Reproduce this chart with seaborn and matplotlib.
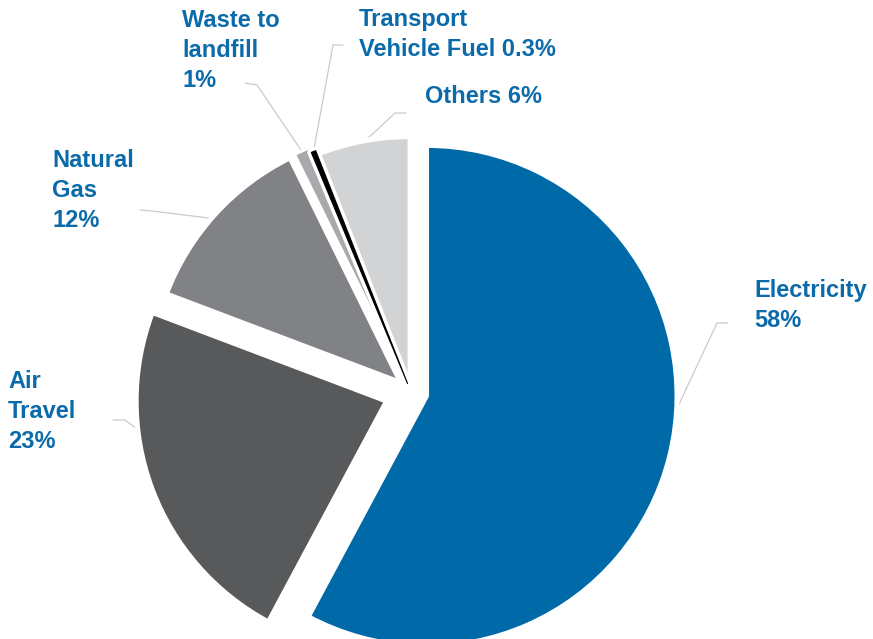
import numpy as np
import matplotlib
matplotlib.use("Agg")
import matplotlib.pyplot as plt
import matplotlib.patheffects as pe
import seaborn as sns

# Emission sources and their share of the footprint (%)
categories = ["Electricity", "Air Travel", "Natural Gas", "Waste to landfill",
              "Transport Vehicle Fuel", "Others"]
shares = [58, 23, 12, 1, 0.3, 6]
# How each category name is broken over lines, and what joins it to its value
label_names = ["Electricity", "Air\nTravel", "Natural\nGas", "Waste to\nlandfill",
               "Transport\nVehicle Fuel", "Others"]
label_joins = ["\n", "\n", "\n", "\n", " ", " "]

slice_colors = sns.color_palette(["#006AA8", "#58595B", "#808285", "#A7A9AC",
                                  "#000000", "#D1D3D4"])
text_blue = "#0B6BAA"
leader_grey = "#C9C9C9"

# Canvas and pie layout, in pixels measured from the top-left corner
W, H = 873, 639
R = 250.5
CX, CY = 411, 392
explode_px = [16, 26, 14, 14, 9, 5]
gap_px = [5, 5, 5, 3, 0, 5]   # white outline width per slice
PT = 72 / 100  # points per pixel at 100 dpi

# Label placement: left edge and baseline of the last line of each label
label_xy = [(754, 327), (8, 448), (52, 227), (182, 87), (359, 56), (425, 103)]
# Leader lines: free end, elbow, and where along each slice's arc they touch
leader_end = [(728, 323), (113, 420), (140, 210), (245, 83), (343, 45), (406, 113)]
leader_elbow = [(717, 323), (125, 420), (152, 211), (257, 85), (333, 45), (395, 113)]
leader_frac = [0.553, 0.33, 0.53, 0.5, 0.5, 0.475]


def to_data(x, y):
    """Pixel position (from top-left) -> pie data coordinates (radius = 1)."""
    return (x - CX) / R, (CY - y) / R


sns.set_theme(style="white")
plt.rcParams["font.family"] = ["Liberation Sans", "DejaVu Sans"]

fig = plt.figure(figsize=(W / 100, H / 100), dpi=100)
ax = fig.add_axes([0, 0, 1, 1])

wedges, _ = ax.pie(
    shares,
    colors=slice_colors,
    startangle=90,
    counterclock=False,
    explode=[e / R for e in explode_px],
    radius=1.0,
    wedgeprops=dict(edgecolor="white", joinstyle="round"),
)
for w, g in zip(wedges, gap_px):
    w.set_linewidth(g * PT)

# The thin fuel slice keeps a black outline and a white halo so it stays visible
fuel = wedges[categories.index("Transport Vehicle Fuel")]
fuel.set_edgecolor("black")
fuel.set_linewidth(1.1 * PT)
fuel.set_zorder(3)
fuel.set_path_effects([pe.Stroke(linewidth=8 * PT, foreground="white"), pe.Normal()])

for i, w in enumerate(wedges):
    value = f"{shares[i]:g}%"
    text = label_names[i] + label_joins[i] + value
    tx, ty = to_data(*label_xy[i])
    ax.text(tx, ty, text, ha="left", va="baseline", fontsize=17, fontweight="bold",
            color=text_blue, linespacing=1.38)

    th = np.deg2rad(w.theta1 + leader_frac[i] * (w.theta2 - w.theta1))
    px_, py_ = w.center[0] + w.r * np.cos(th), w.center[1] + w.r * np.sin(th)
    ex, ey = to_data(*leader_end[i])
    bx, by = to_data(*leader_elbow[i])
    ax.plot([ex, bx, px_], [ey, by, py_], color=leader_grey, lw=1.2 * PT,
            zorder=0.5, solid_joinstyle="miter")

ax.set_xlim((0 - CX) / R, (W - CX) / R)
ax.set_ylim((CY - H) / R, CY / R)
ax.set_aspect("equal")
ax.axis("off")

fig.savefig("out.png", dpi=100)
